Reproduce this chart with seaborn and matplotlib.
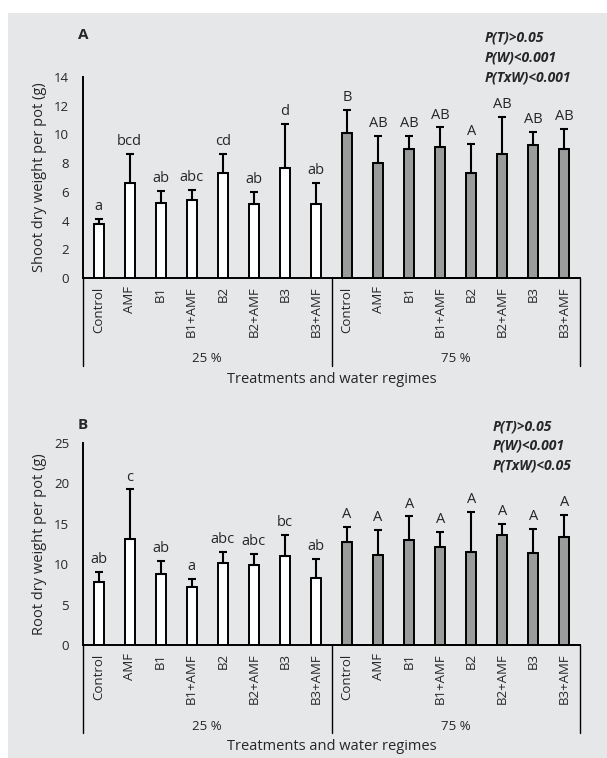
import matplotlib
matplotlib.use("Agg")
import matplotlib.pyplot as plt
import seaborn as sns
import pandas as pd
import numpy as np
from matplotlib.patches import Rectangle
from matplotlib.lines import Line2D

treatments = ["Control", "AMF", "B1", "B1+AMF", "B2", "B2+AMF", "B3", "B3+AMF"]
regimes = ["25 %", "75 %"]

shoot_25 = [3.74, 6.59, 5.25, 5.46, 7.31, 5.18, 7.69, 5.13]
shoot_25_err = [0.39, 2.05, 0.79, 0.67, 1.33, 0.79, 3.06, 1.51]
shoot_75 = [10.10, 8.03, 8.99, 9.12, 7.31, 8.66, 9.26, 8.99]
shoot_75_err = [1.60, 1.88, 0.88, 1.37, 2.02, 2.53, 0.89, 1.41]
shoot_letters = ["a", "bcd", "ab", "abc", "cd", "ab", "d", "ab",
                 "B", "AB", "AB", "AB", "A", "AB", "AB", "AB"]

root_25 = [7.77, 13.06, 8.84, 7.15, 10.12, 9.88, 11.03, 8.35]
root_25_err = [1.28, 6.20, 1.61, 1.03, 1.45, 1.40, 2.57, 2.31]
root_75 = [12.69, 11.16, 13.02, 12.15, 11.49, 13.60, 11.40, 13.31]
root_75_err = [1.94, 3.10, 2.89, 1.86, 5.00, 1.36, 2.98, 2.76]
root_letters = ["ab", "c", "ab", "a", "abc", "abc", "bc", "ab",
                "A", "A", "A", "A", "A", "A", "A", "A"]

shoot_p = ["P(T)>0.05", "P(W)<0.001", "P(TxW)<0.001"]
root_p = ["P(T)>0.05", "P(W)<0.001", "P(TxW)<0.05"]

sns.set_style("ticks")
plt.rcParams['font.family'] = ['Open Sans', 'DejaVu Sans']

W, H = 607, 758
fig = plt.figure(figsize=(W / 100, H / 100), dpi=100)
fig.patches.append(Rectangle((8 / W, 0), 1 - 8 / W, (H - 13) / H,
                             transform=fig.transFigure, facecolor="#e6e7e9",
                             edgecolor="none", zorder=-10))

def px_axes(left, top, right, bottom):
    return fig.add_axes([left / W, 1 - bottom / H, (right - left) / W, (bottom - top) / H])

panels = [
    dict(box=(83, 77, 580, 278), means=(shoot_25, shoot_75), errs=(shoot_25_err, shoot_75_err),
         letters=shoot_letters, ylim=14, step=2, ylabel="Shoot dry weight per pot (g)",
         tag="A", tag_y=35, p=shoot_p, p_x=485, p_y=38),
    dict(box=(83, 443, 580, 645), means=(root_25, root_75), errs=(root_25_err, root_75_err),
         letters=root_letters, ylim=25, step=5, ylabel="Root dry weight per pot (g)",
         tag="B", tag_y=425, p=root_p, p_x=493, p_y=426),
]

for pn in panels:
    left, top, right, bottom = pn["box"]
    ax = px_axes(left, top, right, bottom)
    ax.set_facecolor("none")
    keys, regs, vals, errs = [], [], [], []
    for r, m, e in zip(regimes, pn["means"], pn["errs"]):
        for t, v, ee in zip(treatments, m, e):
            keys.append(f"{t}|{r}")
            regs.append(r)
            vals.append(v)
            errs.append(ee)
    df = pd.DataFrame({"key": keys, "regime": regs, "value": vals})
    sns.barplot(data=df, x="key", y="value", hue="regime", order=keys,
                palette={"25 %": "white", "75 %": "#9a9c9c"}, dodge=False,
                width=0.32, edgecolor="black", linewidth=1.4, errorbar=None,
                legend=False, ax=ax)
    xs = np.arange(len(keys))
    ax.errorbar(xs, vals, yerr=[np.zeros(len(vals)), errs], fmt="none",
                ecolor="black", elinewidth=1.5, capsize=3, capthick=1.5, zorder=3)
    for x, v, e, lab in zip(xs, vals, errs, pn["letters"]):
        ax.annotate(lab, xy=(x, v + e), xytext=(0, 3.5), textcoords="offset points",
                    ha="center", va="bottom", fontsize=10.5)
    ax.set_xlim(-0.5, len(keys) - 0.5)
    ax.set_ylim(0, pn["ylim"])
    ax.set_yticks(np.arange(0, pn["ylim"] + 0.1, pn["step"]))
    ax.set_xticks(xs)
    ax.set_xticklabels([k.split("|")[0] for k in keys], rotation=90, fontsize=9.5)
    ax.tick_params(axis="y", length=0, pad=10, labelsize=9.5)
    ax.tick_params(axis="x", length=0, pad=6)
    ax.set_xlabel("")
    ax.set_ylabel(pn["ylabel"], fontsize=10.5, labelpad=5)
    for s in ["top", "right"]:
        ax.spines[s].set_visible(False)
    for s in ["left", "bottom"]:
        ax.spines[s].set_linewidth(1.4)
        ax.spines[s].set_color("black")
    ax_h = bottom - top
    trans = ax.get_xaxis_transform()
    for xb in [-0.5, 7.5, 15.5]:
        ax.add_line(Line2D([xb, xb], [0, -88 / ax_h], transform=trans, color="black",
                           linewidth=1.0, clip_on=False))
    ax.add_line(Line2D([7.5, 15.5], [0, 0], transform=trans, color="black",
                       linewidth=1.4, clip_on=False))
    for i, r in enumerate(regimes):
        ax.text(3.5 + 8 * i, -81 / ax_h, r, transform=trans, ha="center", va="center",
                fontsize=9.5)
    ax.text(7.5, -102 / ax_h, "Treatments and water regimes", transform=trans,
            ha="center", va="center", fontsize=10.5)
    fig.text(78 / W, 1 - pn["tag_y"] / H, pn["tag"], fontsize=11, fontweight="bold",
             ha="left", va="center")
    for j, t in enumerate(pn["p"]):
        fig.text(pn["p_x"] / W, 1 - (pn["p_y"] + 20 * j) / H, t, fontsize=10,
                 fontweight="bold", style="italic", ha="left", va="center")

fig.savefig("out.png", dpi=100)
